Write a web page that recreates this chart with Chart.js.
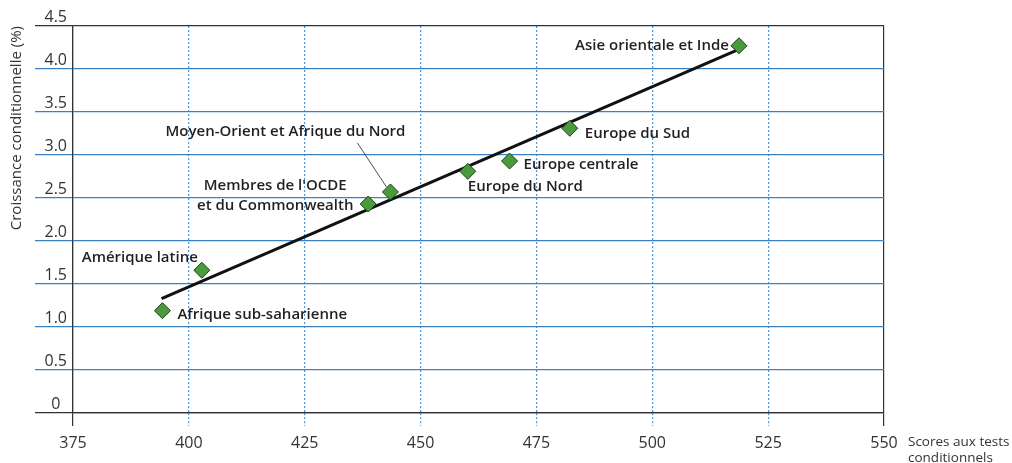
<!DOCTYPE html>
<html>
<head>
<meta charset="utf-8">
<title>Croissance conditionnelle et scores aux tests</title>
<script src="https://cdn.jsdelivr.net/npm/chart.js@4.4.0/dist/chart.umd.min.js"></script>
<style>
  body { margin: 0; background: #fff; }
  #wrap { width: 1012px; height: 463px; }
</style>
</head>
<body>
<div id="wrap"><canvas id="myChart" width="1012" height="463"></canvas></div>
<script>
// data
const regions = ['Afrique sub-saharienne', 'Amérique latine', "Membres de l'OCDE\net du Commonwealth",
  'Moyen-Orient et Afrique du Nord', 'Europe du Nord', 'Europe centrale', 'Europe du Sud', 'Asie orientale et Inde'];
const scores = [394.3, 402.8, 438.7, 443.5, 460.2, 469.2, 482.2, 518.7];
const growth = [1.19, 1.66, 2.43, 2.57, 2.81, 2.93, 3.31, 4.27];
// fitted line, two ends
const trendX = [394.1, 518.3];
const trendY = [1.33, 4.22];
const xTicks = [375, 400, 425, 450, 475, 500, 525, 550];
const yTicks = [0, 0.5, 1, 1.5, 2, 2.5, 3, 3.5, 4, 4.5];
const yTickLabels = ['0', '0.5', '1.0', '1.5', '2.0', '2.5', '3.0', '3.5', '4.0', '4.5'];

// where each label sits around its marker (pixels)
const labelPlace = [
  {dx: 15, dy: 4, align: 'left'},
  {dx: -4, dy: -13, align: 'right'},
  {dx: -93, dy: -18, align: 'center'},
  {dx: -105, dy: -60, align: 'center', leader: [-33, -49, -4, -5]},
  {dx: 0, dy: 15, align: 'left'},
  {dx: 14, dy: 4, align: 'left'},
  {dx: 15, dy: 5, align: 'left'},
  {dx: -10, dy: 0, align: 'right'}
];

const FONT = '"Open Sans", "DejaVu Sans", sans-serif';
const BLUE = '#3a80c3';
const DOT_BLUE = '#4f97d6';
const DARK = '#333333';

const pointLabels = {
  id: 'pointLabels',
  afterDatasetsDraw(chart) {
    const ctx = chart.ctx;
    const meta = chart.getDatasetMeta(0);
    ctx.save();
    ctx.fillStyle = '#231f20';
    ctx.font = '600 15px ' + FONT;
    ctx.textBaseline = 'middle';
    meta.data.forEach((pt, i) => {
      const p = labelPlace[i];
      ctx.textAlign = p.align;
      const lines = regions[i].split('\n');
      lines.forEach((line, k) => {
        ctx.fillText(line, pt.x + p.dx, pt.y + p.dy + k * 20);
      });
      if (p.leader) {
        ctx.strokeStyle = '#231f20';
        ctx.lineWidth = 0.8;
        ctx.beginPath();
        ctx.moveTo(pt.x + p.leader[0], pt.y + p.leader[1]);
        ctx.lineTo(pt.x + p.leader[2], pt.y + p.leader[3]);
        ctx.stroke();
      }
    });
    ctx.restore();
  }
};

const xTitle = {
  id: 'xTitle',
  afterDraw(chart) {
    const ctx = chart.ctx;
    const area = chart.chartArea;
    ctx.save();
    ctx.fillStyle = DARK;
    ctx.font = '13.5px ' + FONT;
    ctx.textAlign = 'left';
    ctx.textBaseline = 'middle';
    ctx.fillText('Scores aux tests', area.right + 24, 442);
    ctx.fillText('conditionnels', area.right + 24, 458);
    ctx.restore();
  }
};

const isEdgeX = (v) => v === xTicks[0] || v === xTicks[xTicks.length - 1];
const isEdgeY = (v) => v === yTicks[0] || v === yTicks[yTicks.length - 1];

const ctx = document.getElementById('myChart').getContext('2d');
const myChart = new Chart(ctx, {
  type: 'scatter',
  data: {
    datasets: [{
      label: 'Régions',
      data: scores.map((s, i) => ({x: s, y: growth[i]})),
      pointStyle: 'rectRot',
      pointRadius: 8,
      pointHoverRadius: 8,
      backgroundColor: '#4a9b3c',
      borderColor: '#1f3d14',
      borderWidth: 1
    }, {
      type: 'line',
      label: 'Tendance',
      data: trendX.map((x, i) => ({x: x, y: trendY[i]})),
      borderColor: '#111',
      borderWidth: 3,
      pointRadius: 0,
      fill: false
    }]
  },
  options: {
    responsive: false,
    animation: false,
    layout: { padding: { top: 26, right: 128, left: 0, bottom: 0 } },
    plugins: {
      legend: { display: false },
      tooltip: { enabled: false }
    },
    scales: {
      x: {
        type: 'linear',
        min: 375,
        max: 550,
        afterBuildTicks: (scale) => { scale.ticks = xTicks.map(v => ({value: v})); },
        afterFit: (scale) => { scale.height = 50; },
        grid: {
          color: (c) => isEdgeX(c.tick && c.tick.value) ? DARK : DOT_BLUE,
          tickColor: (c) => isEdgeX(c.tick && c.tick.value) ? DARK : DOT_BLUE,
          tickBorderDash: (c) => isEdgeX(c.tick && c.tick.value) ? [] : [2, 2],
          lineWidth: 1.2,
          tickWidth: 1.2,
          tickLength: 13
        },
        border: {
          color: DARK,
          width: 1.2,
          dash: (c) => isEdgeX(c.tick && c.tick.value) ? [] : [2, 2]
        },
        ticks: {
          color: DARK,
          font: { family: FONT, size: 16 },
          padding: 8,
          maxRotation: 0,
          autoSkip: false
        }
      },
      y: {
        min: 0,
        max: 4.5,
        afterBuildTicks: (scale) => { scale.ticks = yTicks.map(v => ({value: v})); },
        afterFit: (scale) => { scale.width = 73; },
        grid: {
          color: (c) => isEdgeY(c.tick && c.tick.value) ? DARK : BLUE,
          tickColor: (c) => isEdgeY(c.tick && c.tick.value) ? DARK : BLUE,
          lineWidth: 1.2,
          tickWidth: 1.2,
          tickLength: 38
        },
        border: { color: DARK, width: 1.2 },
        ticks: {
          color: DARK,
          font: { family: FONT, size: 16 },
          crossAlign: 'center',
          padding: -32,
          labelOffset: -9,
          callback: (v) => {
            const i = yTicks.indexOf(v);
            return i >= 0 ? yTickLabels[i] : '';
          }
        },
        title: {
          display: true,
          text: 'Croissance conditionnelle (%)',
          align: 'end',
          color: DARK,
          font: { family: FONT, size: 15 },
          padding: { top: 8, bottom: 0 }
        }
      }
    }
  },
  plugins: [pointLabels, xTitle]
});
</script>
</body>
</html>
